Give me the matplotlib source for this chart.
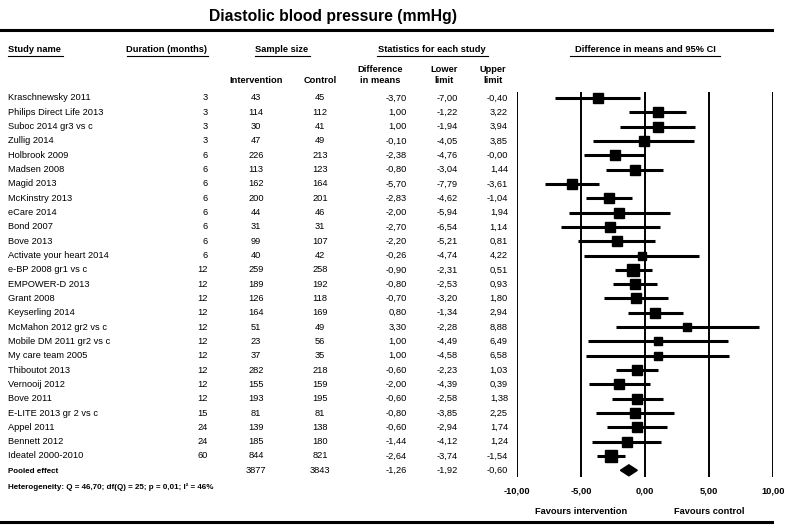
import matplotlib.pyplot as plt
import matplotlib.transforms as mtransforms
import numpy as np

plt.rcParams['font.family'] = ['Liberation Sans', 'DejaVu Sans']

studies = ['Kraschnewsky 2011', 'Philips Direct Life 2013', 'Suboc 2014 gr3 vs c', 'Zullig 2014',
           'Holbrook 2009', 'Madsen 2008', 'Magid 2013', 'McKinstry 2013', 'eCare 2014', 'Bond 2007',
           'Bove 2013', 'Activate your heart 2014', 'e-BP 2008 gr1 vs c', 'EMPOWER-D 2013', 'Grant 2008',
           'Keyserling 2014', 'McMahon 2012 gr2 vs c', 'Mobile DM 2011 gr2 vs c', 'My care team 2005',
           'Thiboutot 2013', 'Vernooij 2012', 'Bove 2011', 'E-LITE 2013 gr 2 vs c', 'Appel 2011',
           'Bennett 2012', 'Ideatel 2000-2010']
duration = [3, 3, 3, 3, 6, 6, 6, 6, 6, 6, 6, 6, 12, 12, 12, 12, 12, 12, 12, 12, 12, 12, 15, 24, 24, 60]
n_intervention = [43, 114, 30, 47, 226, 113, 162, 200, 44, 31, 99, 40, 259, 189, 126, 164, 51, 23, 37,
                  282, 155, 193, 81, 139, 185, 844]
n_control = [45, 112, 41, 49, 213, 123, 164, 201, 46, 31, 107, 42, 258, 192, 118, 169, 49, 56, 35,
             218, 159, 195, 81, 138, 180, 821]
diff = [-3.70, 1.00, 1.00, -0.10, -2.38, -0.80, -5.70, -2.83, -2.00, -2.70, -2.20, -0.26, -0.90, -0.80,
        -0.70, 0.80, 3.30, 1.00, 1.00, -0.60, -2.00, -0.60, -0.80, -0.60, -1.44, -2.64]
lower = [-7.00, -1.22, -1.94, -4.05, -4.76, -3.04, -7.79, -4.62, -5.94, -6.54, -5.21, -4.74, -2.31, -2.53,
         -3.20, -1.34, -2.28, -4.49, -4.58, -2.23, -4.39, -2.58, -3.85, -2.94, -4.12, -3.74]
upper = [-0.40, 3.22, 3.94, 3.85, -0.00, 1.44, -3.61, -1.04, 1.94, 1.14, 0.81, 4.22, 0.51, 0.93,
         1.80, 2.94, 8.88, 6.49, 6.58, 1.03, 0.39, 1.38, 2.25, 1.74, 1.24, -1.54]
pooled_n = [3877, 3843]
pooled = [-1.26, -1.92, -0.60]
ticks = [-10, -5, 0, 5, 10]
heterogeneity = 'Heterogeneity: Q = 46,70; df(Q) = 25; p = 0,01; I\u00b2 = 46%'

W, H = 787, 532
fig = plt.figure(figsize=(W / 100, H / 100), dpi=100)


def fx(px):
    return px / W


def fy(py):
    return 1 - py / H


# forest plot axes: -10 at 517 px, 10 at 773 px; rows 14.32 px apart starting at 98 px
row_h = 14.32
top_px, bot_px = 92, 477
ax = fig.add_axes([fx(517), fy(bot_px), (773 - 517) / W, (bot_px - top_px) / H])
ax.set_xlim(-10, 10)
ax.set_ylim(26 + (bot_px - (98 + 26 * row_h)) / row_h, -(98 - top_px) / row_h)
for s in ax.spines.values():
    s.set_visible(False)
for t in ticks:
    ax.axvline(t, color='black', lw=1.4, zorder=1)
ax.set_yticks([])
ax.set_xticks(ticks)
ax.set_xticklabels([f'{t:.2f}'.replace('.', ',') for t in ticks], fontsize=6.7, fontweight='bold')
ax.tick_params(axis='x', length=0, pad=7)
ax.patch.set_alpha(0)

# square sizes from random-effects weights
d = np.array(diff)
v = ((np.array(upper) - np.array(lower)) / 3.92) ** 2
w = 1 / v
q = np.sum(w * (d - np.sum(w * d) / np.sum(w)) ** 2)
c = np.sum(w) - np.sum(w ** 2) / np.sum(w)
tau2 = max(0, (q - (len(d) - 1)) / c)
wr = 1 / (v + tau2)
sides = 8 + 3.5 * wr / wr.max()

for i in range(len(studies)):
    ax.plot([lower[i], upper[i]], [i, i], color='black', lw=2.2, solid_capstyle='butt', zorder=2,
            clip_on=False)
    ax.plot(diff[i], i, marker='s', color='black', markersize=sides[i] * 0.72, zorder=3, clip_on=False)

k = len(studies)
dh = 5.5 / row_h
ax.fill([pooled[1], pooled[0], pooled[2], pooled[0]], [k, k - dh, k, k + dh], color='black', zorder=3)

# table text
tr = mtransforms.blended_transform_factory(fig.transFigure, ax.transData)
fs = 6.7


def fmt(x):
    return f'{x:.2f}'.replace('.', ',')


for i in range(k):
    fig.text(fx(8), i, studies[i], transform=tr, fontsize=fs, va='center', ha='left')
    fig.text(fx(208), i, str(duration[i]), transform=tr, fontsize=fs, va='center', ha='right')
    fig.text(fx(256), i, str(n_intervention[i]), transform=tr, fontsize=fs, va='center', ha='center')
    fig.text(fx(320), i, str(n_control[i]), transform=tr, fontsize=fs, va='center', ha='center')
    fig.text(fx(407), i, fmt(diff[i]), transform=tr, fontsize=fs, va='center', ha='right')
    fig.text(fx(458), i, fmt(lower[i]), transform=tr, fontsize=fs, va='center', ha='right')
    fig.text(fx(508), i, fmt(upper[i]), transform=tr, fontsize=fs, va='center', ha='right')

fig.text(fx(8), k + 0.1, 'Pooled effect', transform=tr, fontsize=5.8, fontweight='bold', va='center')
fig.text(fx(256), k, str(pooled_n[0]), transform=tr, fontsize=fs, va='center', ha='center')
fig.text(fx(320), k, str(pooled_n[1]), transform=tr, fontsize=fs, va='center', ha='center')
fig.text(fx(407), k, fmt(pooled[0]), transform=tr, fontsize=fs, va='center', ha='right')
fig.text(fx(458), k, fmt(pooled[1]), transform=tr, fontsize=fs, va='center', ha='right')
fig.text(fx(508), k, fmt(pooled[2]), transform=tr, fontsize=fs, va='center', ha='right')
fig.text(fx(8), fy(487), heterogeneity, fontsize=5.8, fontweight='bold', va='center')

# title and header
fig.text(fx(333), fy(17), 'Diastolic blood pressure (mmHg)', fontsize=11.3, fontweight='bold',
         ha='center', va='center')
fig.add_artist(plt.Line2D([0, fx(772)], [fy(30), fy(30)], color='black', lw=2.2))
fig.add_artist(plt.Line2D([0, fx(772)], [fy(522), fy(522)], color='black', lw=2.2))

headers = [('Study name', 8, 'left', 8, 63), ('Duration (months)', 167, 'center', 127, 208),
           ('Sample size', 282, 'center', 255, 310), ('Statistics for each study', 432, 'center', 377, 488),
           ('Difference in means and 95% CI', 645, 'center', 570, 720)]
for txt, x, ha, u0, u1 in headers:
    fig.text(fx(x), fy(50), txt, fontsize=fs, fontweight='bold', ha=ha, va='center')
    fig.add_artist(plt.Line2D([fx(u0), fx(u1)], [fy(56), fy(56)], color='black', lw=0.8))

subheaders = [('Intervention', 256), ('Control', 320), ('Difference\nin means', 380),
              ('Lower\nlimit', 444), ('Upper\nlimit', 493)]
for txt, x in subheaders:
    fig.text(fx(x), fy(85), txt, fontsize=fs, fontweight='bold', ha='center', va='bottom',
             linespacing=1.25)

trx = mtransforms.blended_transform_factory(ax.transData, fig.transFigure)
fig.text(-5, fy(512), 'Favours intervention', transform=trx, fontsize=fs, fontweight='bold',
         ha='center', va='center')
fig.text(5, fy(512), 'Favours control', transform=trx, fontsize=fs, fontweight='bold',
         ha='center', va='center')

plt.savefig('out.png', dpi=100)
